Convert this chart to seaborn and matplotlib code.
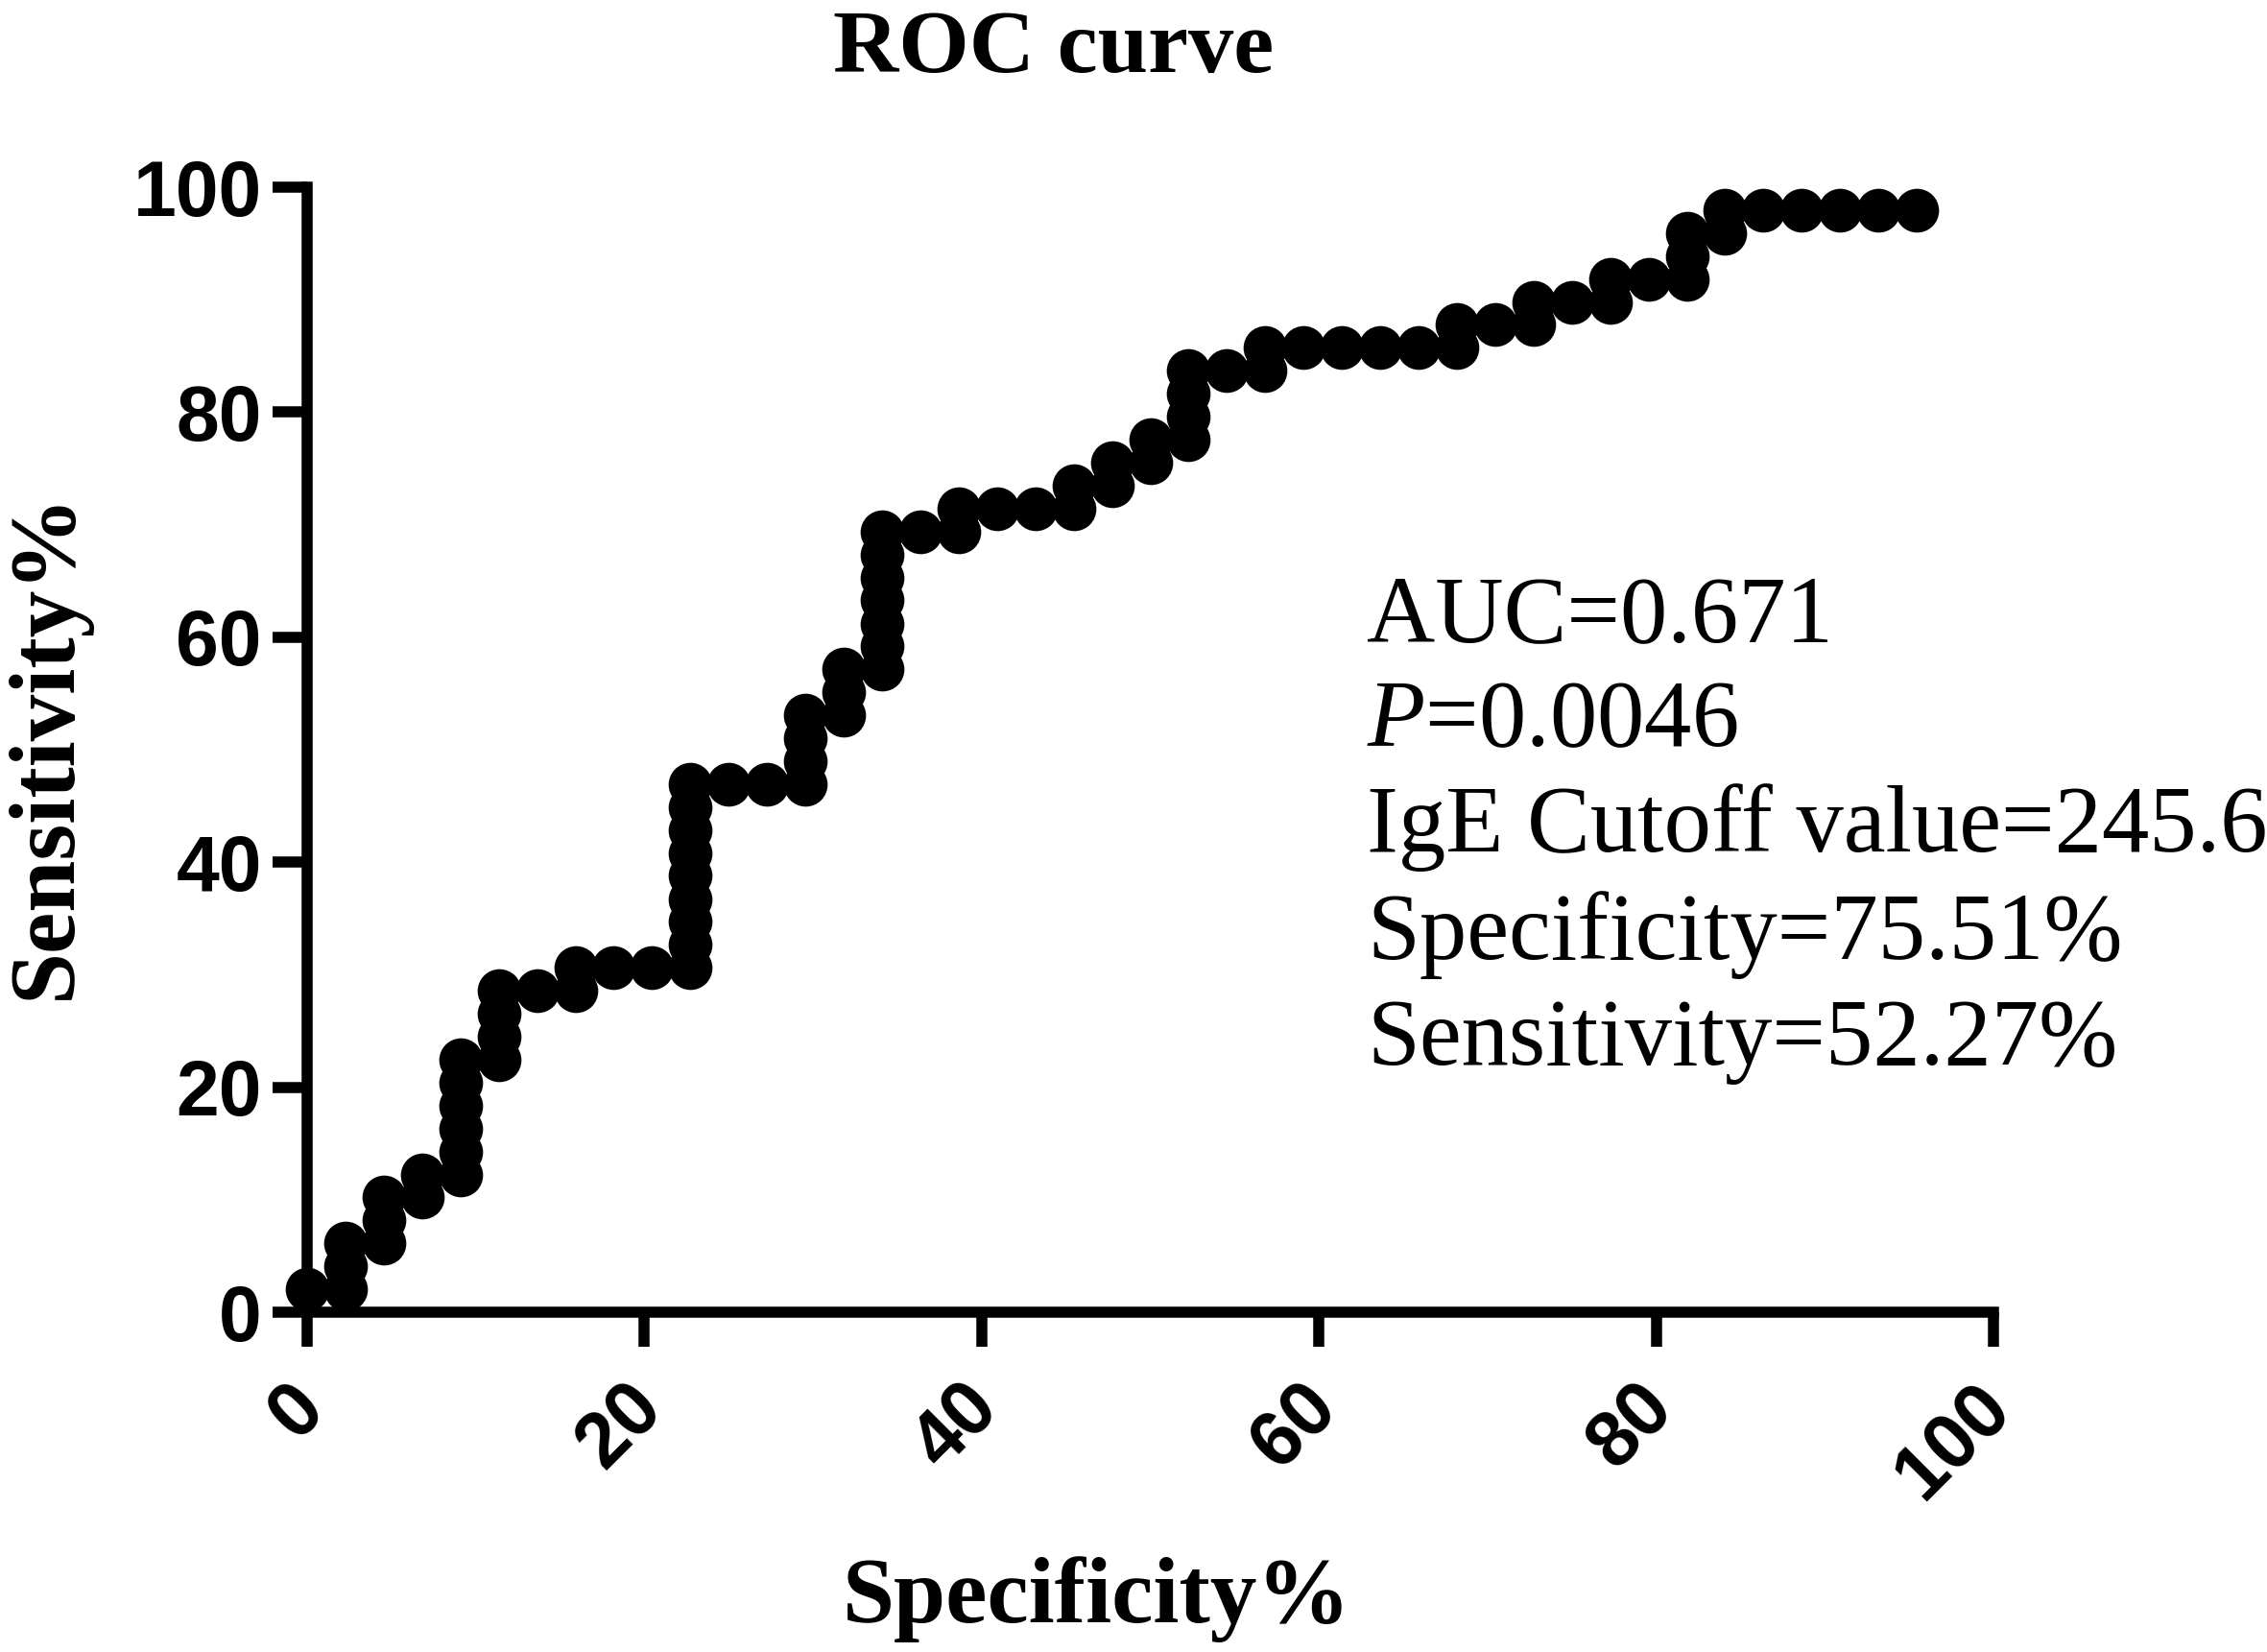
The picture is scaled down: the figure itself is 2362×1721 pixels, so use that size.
import matplotlib
matplotlib.use("Agg")
import matplotlib.pyplot as plt
import matplotlib.transforms as mtransforms
import seaborn as sns
import pandas as pd

# ROC points (x = 100% - Specificity%, y = Sensitivity%)
fpr_pct = [
    0.00,
    2.27, 2.27, 2.27,
    4.55, 4.55, 4.55,
    6.82, 6.82,
    9.09, 9.09, 9.09, 9.09, 9.09, 9.09,
    11.36, 11.36, 11.36, 11.36,
    13.64,
    15.91, 15.91,
    18.18,
    20.45,
    22.73, 22.73, 22.73, 22.73, 22.73, 22.73, 22.73, 22.73, 22.73,
    25.00,
    27.27,
    29.55, 29.55, 29.55, 29.55,
    31.82, 31.82, 31.82,
    34.09, 34.09, 34.09, 34.09, 34.09, 34.09, 34.09,
    36.36,
    38.64, 38.64,
    40.91,
    43.18,
    45.45, 45.45,
    47.73, 47.73,
    50.00, 50.00,
    52.27, 52.27, 52.27, 52.27,
    54.55,
    56.82, 56.82,
    59.09,
    61.36,
    63.64,
    65.91,
    68.18, 68.18,
    70.45,
    72.73, 72.73,
    75.00,
    77.27, 77.27,
    79.55,
    81.82, 81.82, 81.82,
    84.09, 84.09,
    86.36,
    88.64,
    90.91,
    93.18,
    95.45,
]
sens_pct = [
    2.04,
    2.04, 4.08, 6.12,
    6.12, 8.16, 10.20,
    10.20, 12.24,
    12.24, 14.29, 16.33, 18.37, 20.41, 22.45,
    22.45, 24.49, 26.53, 28.57,
    28.57,
    28.57, 30.61,
    30.61,
    30.61,
    30.61, 32.65, 34.69, 36.73, 38.78, 40.82, 42.86, 44.90, 46.94,
    46.94,
    46.94,
    46.94, 48.98, 51.02, 53.06,
    53.06, 55.10, 57.14,
    57.14, 59.18, 61.22, 63.27, 65.31, 67.35, 69.39,
    69.39,
    69.39, 71.43,
    71.43,
    71.43,
    71.43, 73.47,
    73.47, 75.51,
    75.51, 77.55,
    77.55, 79.59, 81.63, 83.67,
    83.67,
    83.67, 85.71,
    85.71,
    85.71,
    85.71,
    85.71,
    85.71, 87.76,
    87.76,
    87.76, 89.80,
    89.80,
    89.80, 91.84,
    91.84,
    91.84, 93.88, 95.92,
    95.92, 97.96,
    97.96,
    97.96,
    97.96,
    97.96,
    97.96,
]

ticks = [0, 20, 40, 60, 80, 100]
stats_lines = [
    "AUC=0.671",
    "$P$=0.0046",
    "IgE Cutoff value=245.6",
    "Specificity=75.51%",
    "Sensitivity=52.27%",
]
stats_baselines = [668, 777, 887, 999, 1109]  # pixel rows in the reference

df = pd.DataFrame({"fpr": fpr_pct, "sens": sens_pct})

sns.set_style("ticks")
plt.rcParams.update({
    "text.color": "black",
    "axes.labelcolor": "black",
    "xtick.color": "black",
    "ytick.color": "black",
    "axes.edgecolor": "black",
    "mathtext.fontset": "custom",
    "mathtext.it": "Liberation Serif:italic",
    "mathtext.rm": "Liberation Serif",
})

W, H = 2362, 1721
fig = plt.figure(figsize=(W / 100, H / 100), dpi=100)
ax = fig.add_axes([320 / W, 1 - 1367 / H, (2077 - 320) / W, (1367 - 195) / H])

sns.scatterplot(data=df, x="fpr", y="sens", ax=ax, color="black", s=1080,
                linewidth=0, marker="o", clip_on=False, zorder=5, legend=False)

ax.set_xlim(0, 100)
ax.set_ylim(0, 100)
ax.set_xticks(ticks)
ax.set_yticks(ticks)
ax.set_xlabel("")
ax.set_ylabel("")
for side in ["top", "right"]:
    ax.spines[side].set_visible(False)
for side in ["left", "bottom"]:
    ax.spines[side].set_linewidth(8.3)
    ax.spines[side].set_color("black")
    ax.spines[side].set_capstyle("projecting")

ax.tick_params(axis="both", direction="out", length=26, width=8.3,
               color="black", labelcolor="black")
ax.tick_params(axis="y", pad=8)
ax.tick_params(axis="x", pad=37)

tick_font = dict(family="Liberation Sans", weight="bold", size=58)
ax.set_yticklabels([str(t) for t in ticks], fontdict=tick_font)
ax.set_xticklabels([str(t) for t in ticks], fontdict=tick_font)
shift = mtransforms.ScaledTranslation(6 / 100, 0, fig.dpi_scale_trans)
for lab in ax.get_xticklabels():
    lab.set_rotation(45)
    lab.set_ha("right")
    lab.set_va("center")
    lab.set_rotation_mode("anchor")
    lab.set_transform(lab.get_transform() + shift)

serif_bold = dict(family="Liberation Serif", weight="bold", color="black")
fig.text(1098 / W, 1 - 75 / H, "ROC curve", ha="center", va="baseline",
         size=68, **serif_bold)
fig.text(1143 / W, 1 - 1690 / H, "Specificity%", ha="center", va="baseline",
         size=70, **serif_bold)
fig.text(49 / W, 1 - 776 / H, "Sensitivity%", ha="center", va="center",
         rotation=90, size=70, **serif_bold)

for line, yb in zip(stats_lines, stats_baselines):
    fig.text(1424 / W, 1 - yb / H, line, ha="left", va="baseline",
             family="Liberation Serif", size=71, color="black")

fig.savefig("out.png", dpi=100, facecolor="white")
